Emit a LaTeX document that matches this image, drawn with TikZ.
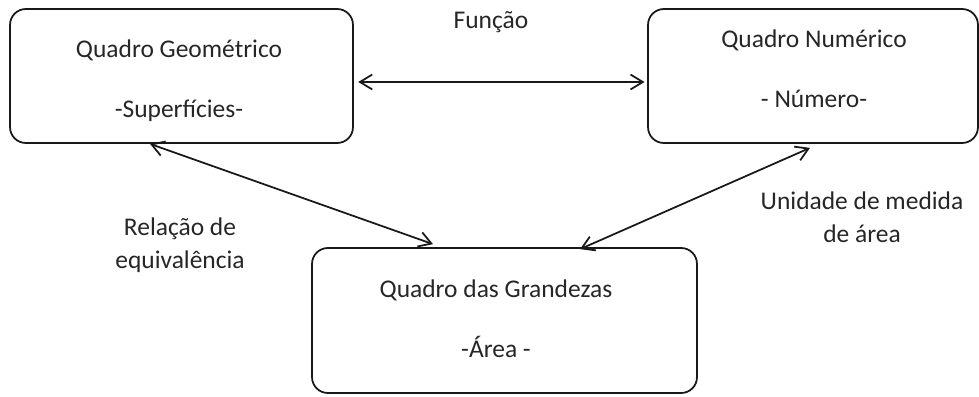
\documentclass[tikz,border=0pt]{standalone}
\usepackage{fontspec}
\setmainfont{Carlito}
\usetikzlibrary{arrows.meta,calc}

\begin{document}
\begin{tikzpicture}[x=0.02cm,y=-0.02cm]
      \tikzstyle{quadro}=[draw=black!90,rounded corners=9pt,line width=1pt]
      \tikzstyle{texto}=[font=\fontsize{14.5}{17}\selectfont,text=black!85,align=center,inner sep=0pt]
      \tikzstyle{liga}=[{Straight Barb[length=7pt,width=8.5pt]}-{Straight Barb[length=7pt,width=8.5pt]},line width=1pt,draw=black!90]
      \useasboundingbox (0,0) rectangle (979,396);
      % the three boxes
      \node[quadro,minimum width=6.86cm,minimum height=2.68cm] (geo) at (181.5,76) {};
      \node[quadro,minimum width=6.6cm,minimum height=2.68cm] (num) at (813,76) {};
      \node[quadro,minimum width=7.7cm,minimum height=2.9cm] (gra) at (504.5,320.5) {};
      \node[texto] (geoTxt) at (179,80.5) {Quadro Geométrico\\[17pt]-Superfícies-};
      \node[texto] (numTxt) at (814,69) {Quadro Numérico\\[17pt]- Número-};
      \node[texto] (graTxt) at (496,319) {Quadro das Grandezas\\[17pt]-Área -};
      % labels
      \node[texto] (funcao) at (491,22) {Função};
      \node[texto] (relacao) at (180,245) {Relação de\\[2pt]equivalência};
      \node[texto] (unidade) at (862,217) {Unidade de medida\\[2pt]de área};
      % arrows
      \draw[liga,shorten <=2.5pt,shorten >=1.5pt] ($(geo.east)+(0,6)$) -- ($(num.west)+(0,6)$);
      \draw[liga] ($(geo.south)+(-31.5,0)$) -- ($(gra.north)+(-71.5,-3)$);
      \draw[liga] ($(num.south)+(-3,4)$) -- ($(gra.north)+(75.5,2)$);
\end{tikzpicture}
\end{document}
